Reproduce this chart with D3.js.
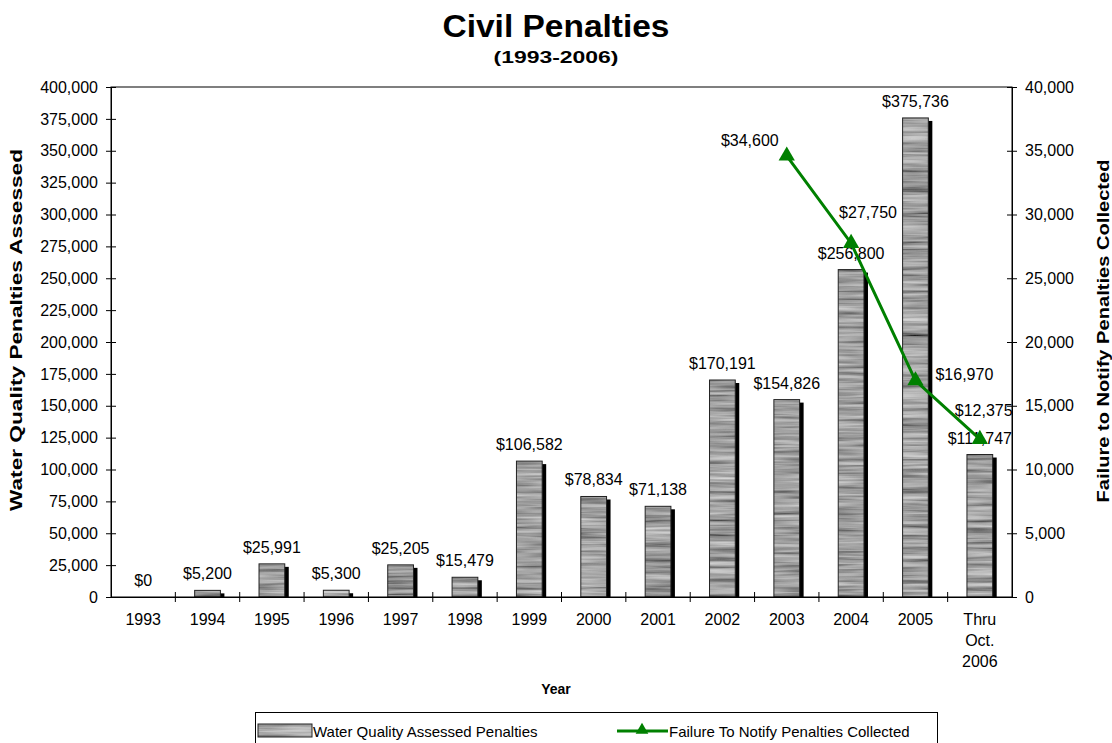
<!DOCTYPE html>
<html>
<head>
<meta charset="utf-8">
<script src="https://cdn.jsdelivr.net/npm/d3@7"></script>
<style>
  body { margin: 0; background: #fff; }
  svg { display: block; font-family: "Liberation Sans", Arial, sans-serif; }
</style>
</head>
<body>
<svg id="chart" width="1112" height="743"></svg>
<script>
// chart data
var years = ["1993", "1994", "1995", "1996", "1997", "1998", "1999", "2000", "2001", "2002", "2003", "2004", "2005", "Thru Oct. 2006"];
var assessed = [0, 5200, 25991, 5300, 25205, 15479, 106582, 78834, 71138, 170191, 154826, 256800, 375736, 111747];
var lineYears = ["2003", "2004", "2005", "Thru Oct. 2006"];
var collected = [34600, 27750, 16970, 12375];
var leftTicks = d3.range(0, 400001, 25000);
var rightTicks = d3.range(0, 40001, 5000);

var margin = {top: 87, left: 111};
var width = 1012 - margin.left;
var height = 597 - margin.top;
var green = "#008000";

var svg = d3.select("#chart");

// wood-like grey texture for the bars
var defs = svg.append("defs");
var filt = defs.append("filter").attr("id", "wood")
    .attr("x", 0).attr("y", 0).attr("width", 1).attr("height", 1);
filt.append("feTurbulence")
    .attr("type", "fractalNoise")
    .attr("baseFrequency", "0.012 0.28")
    .attr("numOctaves", 3)
    .attr("seed", 4)
    .attr("result", "noise");
filt.append("feColorMatrix")
    .attr("in", "noise")
    .attr("type", "matrix")
    .attr("values", "0.8 0 0 0 -0.05  0.8 0 0 0 -0.05  0.8 0 0 0 -0.05  0 0 0 0 1")
    .attr("result", "grey");
filt.append("feComposite")
    .attr("in", "grey").attr("in2", "SourceGraphic").attr("operator", "in");

var g = svg.append("g")
    .attr("transform", "translate(" + margin.left + "," + margin.top + ")");

var x = d3.scaleBand().domain(years).range([0, width]).padding(0);
var y = d3.scaleLinear().domain([0, 400000]).range([height, 0]);
var y2 = d3.scaleLinear().domain([0, 40000]).range([height, 0]);
var fmt = d3.format(",");
var bw = x.bandwidth() * 0.4;

var barData = years.map(function(yr, i) { return {year: yr, value: assessed[i]}; });
var nonZero = barData.filter(function(d) { return d.value > 0; });
function barX(d) { return x(d.year) + (x.bandwidth() - bw) / 2; }

// title
svg.append("text")
    .attr("x", 556).attr("y", 37)
    .attr("text-anchor", "middle")
    .attr("font-size", 31).attr("font-weight", "bold")
    .attr("textLength", 227).attr("lengthAdjust", "spacingAndGlyphs")
    .text("Civil Penalties");
svg.append("text")
    .attr("x", 556).attr("y", 63)
    .attr("text-anchor", "middle")
    .attr("font-size", 17).attr("font-weight", "bold")
    .attr("textLength", 125).attr("lengthAdjust", "spacingAndGlyphs")
    .text("(1993-2006)");

// bars: shadow, texture, outline
var bars = g.append("g");
bars.selectAll("rect.shadow")
    .data(nonZero)
    .enter().append("rect")
    .attr("class", "shadow")
    .attr("x", function(d) { return barX(d) + 4; })
    .attr("y", function(d) { return y(d.value) + 3; })
    .attr("width", bw)
    .attr("height", function(d) { return Math.max(0, height - y(d.value) - 3); })
    .attr("fill", "#000");
bars.selectAll("rect.tex")
    .data(nonZero)
    .enter().append("rect")
    .attr("class", "tex")
    .attr("x", barX)
    .attr("y", function(d) { return y(d.value); })
    .attr("width", bw)
    .attr("height", function(d) { return height - y(d.value); })
    .attr("fill", "#808080")
    .attr("filter", "url(#wood)");
bars.selectAll("rect.outline")
    .data(nonZero)
    .enter().append("rect")
    .attr("class", "outline")
    .attr("x", barX)
    .attr("y", function(d) { return y(d.value); })
    .attr("width", bw)
    .attr("height", function(d) { return height - y(d.value); })
    .attr("fill", "none")
    .attr("stroke", "#222")
    .attr("stroke-width", 1);
bars.selectAll("text")
    .data(barData)
    .enter().append("text")
    .attr("x", function(d) { return x(d.year) + x.bandwidth() / 2; })
    .attr("y", function(d) { return y(d.value) - 11; })
    .attr("text-anchor", "middle")
    .attr("font-size", 16)
    .text(function(d) { return "$" + fmt(d.value); });

// plot frame
g.append("rect")
    .attr("width", width).attr("height", height)
    .attr("fill", "none").attr("stroke", "#000").attr("stroke-width", 1);

// axes
var leftAxis = g.append("g")
    .call(d3.axisLeft(y).tickValues(leftTicks).tickFormat(fmt).tickSizeInner(5).tickSizeOuter(0).tickPadding(8));
leftAxis.selectAll(".tick line").attr("x2", 5).attr("x1", -5);
var rightAxis = g.append("g")
    .attr("transform", "translate(" + width + ",0)")
    .call(d3.axisRight(y2).tickValues(rightTicks).tickFormat(fmt).tickSizeInner(5).tickSizeOuter(0).tickPadding(8));
rightAxis.selectAll(".tick line").attr("x1", -5).attr("x2", 5);

var bottomAxis = g.append("g")
    .attr("transform", "translate(0," + height + ")")
    .call(d3.axisBottom(x).tickSize(0).tickPadding(17));
bottomAxis.selectAll(".tick text").each(function(d) {
    var t = d3.select(this);
    var parts = d.split(" ");
    t.text(null);
    parts.forEach(function(p, k) {
        t.append("tspan").attr("x", 0).attr("dy", k === 0 ? "0.71em" : "1.3em").text(p);
    });
}).attr("dy", null);
// boundary ticks between categories
g.append("g").selectAll("line")
    .data(years.slice(1))
    .enter().append("line")
    .attr("x1", function(d) { return x(d); })
    .attr("x2", function(d) { return x(d); })
    .attr("y1", height - 5).attr("y2", height + 5)
    .attr("stroke", "#000");

[leftAxis, rightAxis, bottomAxis].forEach(function(a) {
    a.select(".domain").attr("stroke", "#000");
    a.selectAll("text").attr("font-size", 16).attr("fill", "#000")
        .attr("font-family", "'Liberation Sans', Arial, sans-serif");
});

// line series on right axis
var line = d3.line()
    .x(function(d, i) { return x(lineYears[i]) + x.bandwidth() / 2; })
    .y(function(d) { return y2(d); });
g.append("path")
    .datum(collected)
    .attr("fill", "none")
    .attr("stroke", green)
    .attr("stroke-width", 3)
    .attr("d", line);
g.append("g").selectAll("path")
    .data(collected)
    .enter().append("path")
    .attr("d", d3.symbol().type(d3.symbolTriangle).size(115))
    .attr("fill", green)
    .attr("transform", function(d, i) {
        return "translate(" + (x(lineYears[i]) + x.bandwidth() / 2) + "," + y2(d) + ")";
    });

// label placement for line points
var lineLabelPos = [
    {dx: -8, dy: -10, anchor: "end"},
    {dx: -12, dy: -25, anchor: "start"},
    {dx: 20, dy: -1, anchor: "start"},
    {dx: -25, dy: -23, anchor: "start"}
];
g.append("g").selectAll("text")
    .data(collected)
    .enter().append("text")
    .attr("x", function(d, i) { return x(lineYears[i]) + x.bandwidth() / 2 + lineLabelPos[i].dx; })
    .attr("y", function(d, i) { return y2(d) + lineLabelPos[i].dy; })
    .attr("text-anchor", function(d, i) { return lineLabelPos[i].anchor; })
    .attr("font-size", 16)
    .text(function(d) { return "$" + fmt(d); });

// axis titles
svg.append("text")
    .attr("transform", "translate(22,330) rotate(-90)")
    .attr("text-anchor", "middle")
    .attr("font-size", 16.5).attr("font-weight", "bold")
    .attr("textLength", 362).attr("lengthAdjust", "spacingAndGlyphs")
    .text("Water Quality Penalties Assessed");
svg.append("text")
    .attr("transform", "translate(1109,331) rotate(-90)")
    .attr("text-anchor", "middle")
    .attr("font-size", 16.5).attr("font-weight", "bold")
    .attr("textLength", 343).attr("lengthAdjust", "spacingAndGlyphs")
    .text("Failure to Notify Penalties Collected");
svg.append("text")
    .attr("x", 556).attr("y", 694)
    .attr("text-anchor", "middle")
    .attr("font-size", 14).attr("font-weight", "bold")
    .text("Year");

// legend
var legend = svg.append("g");
legend.append("rect")
    .attr("x", 255.5).attr("y", 712.5).attr("width", 682).attr("height", 40)
    .attr("fill", "#fff").attr("stroke", "#000");
legend.append("rect")
    .attr("x", 258).attr("y", 724).attr("width", 54).attr("height", 13)
    .attr("fill", "#808080").attr("filter", "url(#wood)");
legend.append("rect")
    .attr("x", 258).attr("y", 724).attr("width", 54).attr("height", 13)
    .attr("fill", "none").attr("stroke", "#222");
legend.append("text")
    .attr("x", 313).attr("y", 736.5)
    .attr("font-size", 15)
    .text("Water Quality Assessed Penalties");
legend.append("line")
    .attr("x1", 617).attr("x2", 668).attr("y1", 731).attr("y2", 731)
    .attr("stroke", green).attr("stroke-width", 3);
legend.append("path")
    .attr("d", d3.symbol().type(d3.symbolTriangle).size(70))
    .attr("fill", green)
    .attr("transform", "translate(642,730)");
legend.append("text")
    .attr("x", 669).attr("y", 736.5)
    .attr("font-size", 15)
    .text("Failure To Notify Penalties Collected");
</script>
</body>
</html>
